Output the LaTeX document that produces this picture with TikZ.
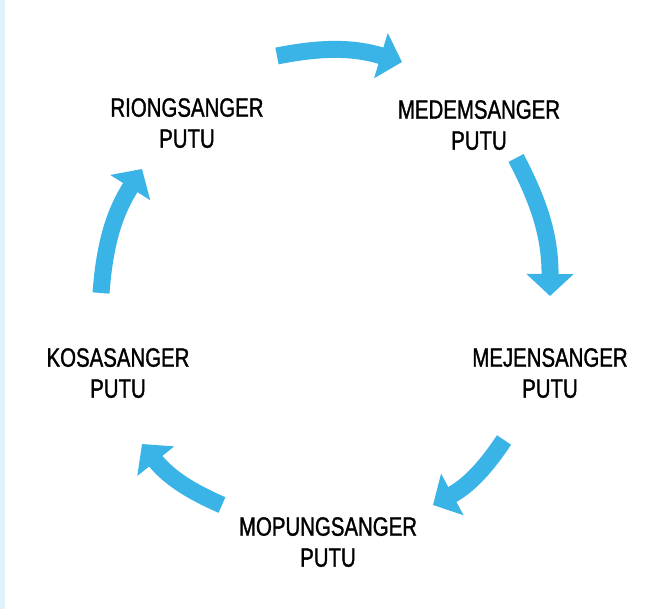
\documentclass[tikz,border=0pt]{standalone}
\usepackage{fontspec}
\setmainfont{Liberation Sans}[FakeStretch=0.77, FakeBold=1.2]
\usetikzlibrary{arrows.meta}
\definecolor{cyclearrow}{HTML}{3AB4E6}
\definecolor{sidestrip}{HTML}{E1F2FB}

\begin{document}
\begin{tikzpicture}[x=1pt, y=-1pt,
    every node/.style={align=center, anchor=north, inner sep=0pt, text=black, font=\fontsize{26.5}{31}\selectfont},
    turn/.style={draw=cyclearrow, line width=17pt, -{Triangle[width=46pt, length=22pt]}, bend left=14}]
    \fill[white] (0,0) rectangle (654,609);
    \fill[sidestrip] (0,0) rectangle (5,609);
    \useasboundingbox (0,0) rectangle (654,609);

    \node (riong) at (187,98) {RIONGSANGER\\PUTU};
    \node (medem) at (479,100) {MEDEMSANGER\\PUTU};
    \node (mejen) at (550,348) {MEJENSANGER\\PUTU};
    \node (mopung) at (328,517) {MOPUNGSANGER\\PUTU};
    \node (kosa) at (118,348) {KOSASANGER\\PUTU};

    \coordinate (t1) at (277,56);  \coordinate (t2) at (402,62);
    \coordinate (r1) at (516,158); \coordinate (r2) at (550,296);
    \coordinate (d1) at (504,440); \coordinate (d2) at (433,505);
    \coordinate (b1) at (222,505); \coordinate (b2) at (142,444);
    \coordinate (l1) at (101,293); \coordinate (l2) at (142,169);

    \draw[turn] (t1) to (t2);
    \draw[turn] (r1) to (r2);
    \draw[turn] (d1) to (d2);
    \draw[turn] (b1) to (b2);
    \draw[turn] (l1) to (l2);
\end{tikzpicture}
\end{document}
